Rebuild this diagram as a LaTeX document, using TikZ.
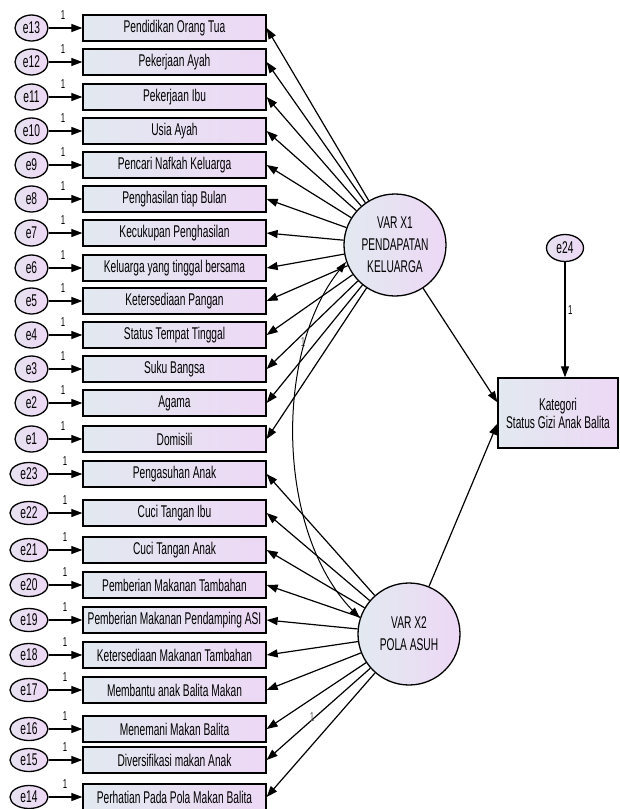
\documentclass[tikz,border=0pt]{standalone}
\usepackage{fontspec}
\setmainfont{Liberation Sans}[FakeStretch=0.6]
\usetikzlibrary{shapes.geometric,arrows.meta}
\definecolor{boxL}{RGB}{226,233,240}
\definecolor{boxR}{RGB}{237,216,245}
\definecolor{ellL}{RGB}{230,226,240}
\definecolor{ellR}{RGB}{238,216,245}
\definecolor{lblgray}{RGB}{90,90,90}
\tikzset{
  obs/.style={rectangle, draw=black, line width=1.3pt, minimum width=183pt, minimum height=26pt, inner sep=0pt, left color=boxL, right color=boxR, font=\fontsize{17}{19}\selectfont},
  err/.style={ellipse, draw=black, line width=1.3pt, minimum width=33pt, minimum height=26pt, inner sep=0pt, left color=ellL, right color=ellR, font=\fontsize{17}{19}\selectfont},
  errb/.style={err, minimum width=38pt, minimum height=23pt},
  lat/.style={circle, draw=black, line width=1.3pt, minimum size=102pt, inner sep=0pt, align=center, left color=boxL, right color=boxR, font=\fontsize{17}{22}\selectfont},
  arr/.style={-{Triangle[length=11pt,width=8pt]}, line width=1.2pt},
  cov/.style={{Triangle[length=11pt,width=7pt]}-{Triangle[length=11pt,width=7pt]}, line width=1pt},
  one/.style={font=\fontsize{13}{14}\selectfont, inner sep=0pt},
}
\begin{document}
\begin{tikzpicture}[x=1pt,y=-1pt]
\useasboundingbox[fill=white] (0,0) rectangle (620,809);
% latent variables
\node[lat] (X1) at (395,245) {VAR X1\\PENDAPATAN\\KELUARGA};
\node[lat] (X2) at (409,634) {VAR X2\\POLA ASUH};
% outcome
\node[obs, minimum width=120pt, minimum height=70pt, align=center, font=\fontsize{17}{18}\selectfont] (K) at (558,413) {Kategori\\Status Gizi Anak Balita};
\node[err, minimum width=37pt, minimum height=27pt] (e24) at (565,248) {e24};
\draw[arr] (e24) -- (e24 |- K.north);
\node[one, anchor=west] at (568,310) {1};
\draw[arr] (X1) -- (K.170);
\draw[arr] (X2) -- (K.190);
% indicators of X1
\foreach \i/\t/\y in {13/Pendidikan Orang Tua/28, 12/Pekerjaan Ayah/62, 11/Pekerjaan Ibu/97, 10/Usia Ayah/131, 9/Pencari Nafkah Keluarga/165, 8/Penghasilan tiap Bulan/199, 7/Kecukupan Penghasilan/233, 6/Keluarga yang tinggal bersama/268, 5/Ketersediaan Pangan/301, 4/Status Tempat Tinggal/335, 3/Suku Bangsa/369, 2/Agama/403, 1/Domisili/439}{
  \node[obs] (b\i) at (174.5,\y) {\t};
  \node[err] (e\i) at (31.5,\y) {e\i};
  \draw[arr] (e\i) -- (b\i);
  \node[one] at (63,\y-13) {1};
  \draw[arr] (X1) -- (b\i.east);
}
% indicators of X2
\foreach \i/\t/\y in {23/Pengasuhan Anak/474, 22/Cuci Tangan Ibu/513, 21/Cuci Tangan Anak/550, 20/Pemberian Makanan Tambahan/585, 19/Pemberian Makanan Pendamping ASI/620, 18/Ketersediaan Makanan Tambahan/655, 17/Membantu anak Balita Makan/690, 16/Menemani Makan Balita/729, 15/Diversifikasi makan Anak/760, 14/Perhatian Pada Pola Makan Balita/797}{
  \node[obs] (b\i) at (174.5,\y) {\t};
  \node[errb] (e\i) at (29,\y) {e\i};
  \draw[arr] (e\i) -- (b\i);
  \node[one] at (65,\y-13) {1};
  \draw[arr] (X2) -- (b\i.east);
}
% fixed loadings
\node[one, text=lblgray] at (303,342) {1};
\node[one, text=lblgray] at (312,717) {1};
% covariance
\draw[cov] (X1.199) .. controls (275,350) and (275,530) .. (X2.162);
\end{tikzpicture}
\end{document}
